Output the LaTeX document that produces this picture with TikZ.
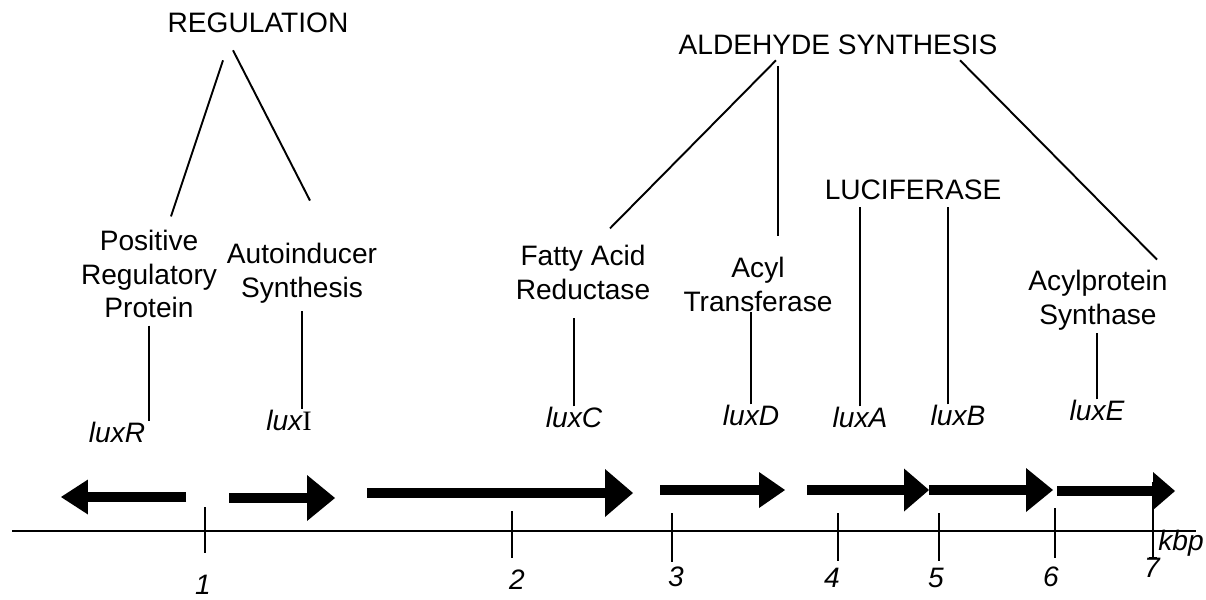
\documentclass[tikz,border=0pt]{standalone}
\usepackage{fontspec}
\setmainfont{Liberation Sans}
\newfontfamily\luxserif{Liberation Serif}
\usepackage{xcolor}
\usepackage{tikz}
\usetikzlibrary{arrows.meta,positioning}
\definecolor{luxInk}{HTML}{000000}
\tikzset{
  lux diagram/.style={font=\fontsize{16}{19.3}\selectfont, text=luxInk,
    line cap=butt, line join=miter},
  lux group/.style={inner sep=0pt},
  lux role/.style={inner sep=0pt, align=center},
  lux gene/.style={inner sep=0pt, font=\fontsize{16}{19.3}\selectfont\itshape},
  lux num/.style={inner sep=0pt, font=\fontsize{16}{19.3}\selectfont\itshape},
  lux link/.style={draw=luxInk, line width=1.1pt},
  lux axis/.style={draw=luxInk, line width=1.1pt},
  lux orf/.style={draw=luxInk, line width=0.19cm}
}

\begin{document}
\begin{tikzpicture}[lux diagram,x=0.02cm,y=-0.02cm]
\useasboundingbox (0,0) rectangle (1206,599);
% group headings
\node[lux group] (reg) at (258,23) {REGULATION};
\node[lux group] (ald) at (838,45) {ALDEHYDE SYNTHESIS};
\node[lux group] (luc) at (913,190) {LUCIFERASE};
% what each gene does
\node[lux role] (prot) at (149,274) {Positive\\Regulatory\\Protein};
\node[lux role] (auto) at (302,273) {Autoinducer\\Synthesis};
\node[lux role] (far) at (583,272) {Fatty Acid\\Reductase};
\node[lux role] (acyl) at (758,284) {Acyl\\Transferase};
\node[lux role] (acp) at (1098,300) {Acylprotein\\Synthase};
% gene names
\node[lux gene] (luxR) at (117,432) {luxR};
\node[lux gene] (luxI) at (289,420) {lux{\luxserif\upshape I}};
\node[lux gene] (luxC) at (574,417) {luxC};
\node[lux gene] (luxD) at (751,415) {luxD};
\node[lux gene] (luxA) at (860,417) {luxA};
\node[lux gene] (luxB) at (958,415) {luxB};
\node[lux gene] (luxE) at (1097,410) {luxE};
% headings to roles
\draw[lux link] ([shift={(-35,27)}]reg.south) -- ([shift={(22,-13)}]prot.north);
\draw[lux link] ([shift={(-25,17)}]reg.south) -- ([shift={(8,-42)}]auto.north);
\draw[lux link] ([shift={(-62,5)}]ald.south) -- ([shift={(27,-16)}]far.north);
\draw[lux link] ([shift={(-60,11)}]ald.south) -- ([shift={(20,-20)}]acyl.north);
\draw[lux link] ([shift={(122,5)}]ald.south) -- ([shift={(59,-10)}]acp.north);
% roles to genes
\draw[lux link] ([yshift=-0.14cm]prot.south) -- (prot.south |- luxR.north);
\draw[lux link] ([yshift=-0.16cm]auto.south) -- (auto.south |- luxI.north);
\draw[lux link] (luxC.north) -- ([yshift=-0.36cm]luxC.north |- far.south);
\draw[lux link] (luxD.north) -- (luxD.north |- acyl.south);
\draw[lux link] (luxA.north) -- ([yshift=-0.14cm]luxA.north |- luc.south);
\draw[lux link] ([xshift=-0.2cm]luxB.north) -- ([xshift=-0.2cm,yshift=-0.14cm]luxB.north |- luc.south);
\draw[lux link] (luxE.north) -- ([yshift=-0.06cm]luxE.north |- acp.south);
% reading frames
\foreach \ta/\tb/\y/\hl/\hw in {186/61/497/0.54/0.70, 229/335/498/0.56/0.92,
  367/633/493/0.56/0.96, 660/785/490/0.52/0.72, 807/929/490/0.50/0.86,
  929/1053/490/0.54/0.88, 1057/1175/491/0.44/0.76}
  \draw[lux orf,-{Triangle[length=\hl cm,width=\hw cm,line width=0pt]}] (\ta,\y) -- (\tb,\y);
% scale
\draw[lux axis] (12,531) -- (1196,531);
\foreach \x/\t/\b/\n/\lx/\ly in {205/507/553/1/203/585, 512/511/558/2/517/580,
  672/513/562/3/676/577, 838/513/561/4/832/578, 939/513/561/5/936/578,
  1055/508/558/6/1051/577, 1153/482/558/7/1152/568}{
  \draw[lux axis] (\x,\t) -- (\x,\b);
  \node[lux num] (k\n) at (\lx,\ly) {\n};
}
\draw[lux axis] (1149,558) -- (1157,558);
\node[lux num,anchor=west] (kbp) at (1158,543) {kbp};
\end{tikzpicture}
\end{document}
